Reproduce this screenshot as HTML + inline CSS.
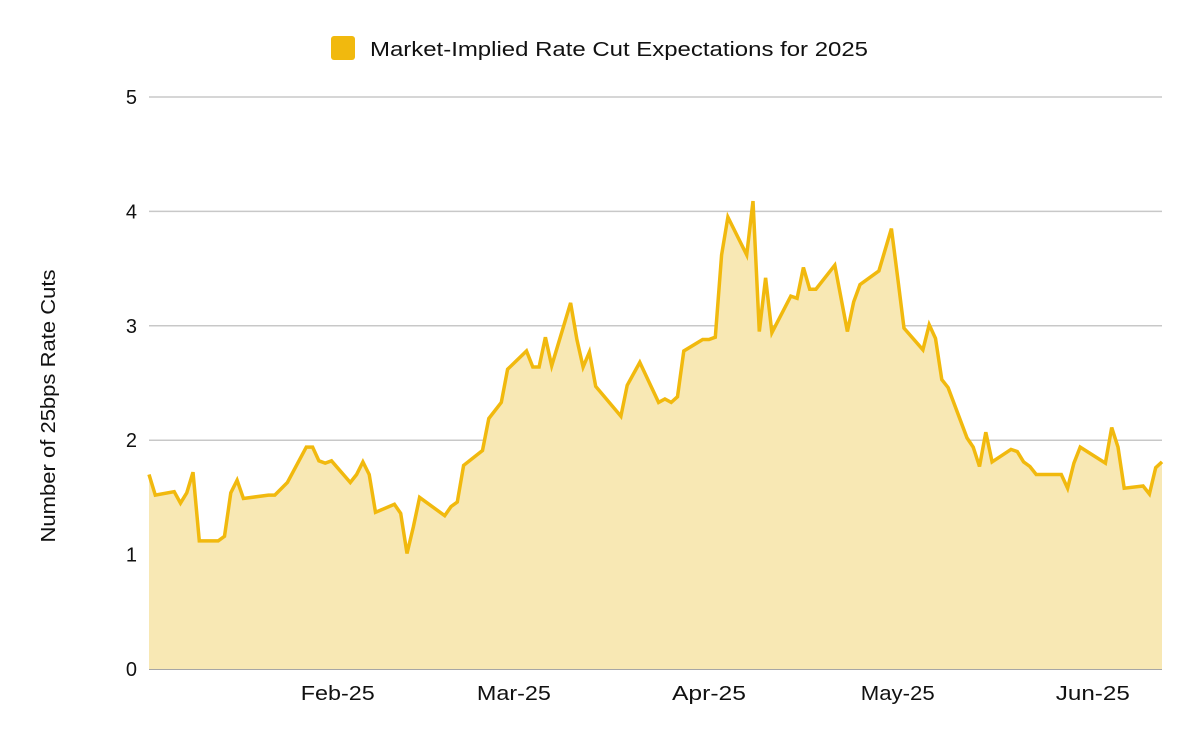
<!DOCTYPE html>
<html><head><meta charset="utf-8"><style>
body{margin:0;background:#fff;font-family:"Liberation Sans",Arial,sans-serif}
svg{display:block}
</style></head><body>
<svg id="chart" width="1200" height="742" viewBox="0 0 1200 742">
<g>
<rect x="331" y="36" width="24" height="24" rx="3" fill="#f1b90e"/>
<text x="370" y="56" font-size="20" textLength="498" lengthAdjust="spacingAndGlyphs" fill="#111">Market-Implied Rate Cut Expectations for 2025</text>
</g>
<text transform="translate(55,406) rotate(-90)" text-anchor="middle" font-size="20" textLength="273" lengthAdjust="spacingAndGlyphs" fill="#111">Number of 25bps Rate Cuts</text>
<g id="grid"></g><g id="area"></g><g id="labels"></g>
</svg>
<script>
const days=[1,2,5,6,7,8,9,12,13,14,15,16,20,21,23,26,27,28,29,30,33,34,35,36,37,40,41,42,43,44,48,49,50,51,54,55,57,58,61,62,63,64,65,68,69,70,71,72,76,77,79,82,83,84,85,86,89,90,91,92,93,96,97,98,99,100,103,104,105,106,107,110,112,113,114,117,119,120,121,124,125,126,127,128,131,132,133,134,135,138,139,140,141,142,146,147,148,149,153,154,155,156,159,160,161,162];
const values=[1.70,1.52,1.55,1.45,1.54,1.72,1.12,1.12,1.16,1.54,1.65,1.49,1.52,1.52,1.63,1.94,1.94,1.82,1.80,1.82,1.63,1.70,1.81,1.70,1.37,1.44,1.36,1.01,1.24,1.50,1.34,1.42,1.46,1.78,1.91,2.19,2.33,2.62,2.78,2.64,2.64,2.90,2.65,3.20,2.88,2.64,2.77,2.47,2.21,2.48,2.68,2.33,2.36,2.33,2.38,2.78,2.88,2.88,2.90,3.62,3.95,3.62,4.09,2.95,3.42,2.94,3.26,3.24,3.51,3.32,3.32,3.53,2.95,3.21,3.36,3.48,3.85,3.42,2.98,2.79,3.01,2.89,2.53,2.46,2.02,1.94,1.77,2.07,1.81,1.92,1.90,1.81,1.77,1.70,1.70,1.58,1.80,1.94,1.80,2.11,1.94,1.58,1.60,1.53,1.76,1.81];
const yTicks=[0,1,2,3,4,5];
const monthLabels=["Feb-25","Mar-25","Apr-25","May-25","Jun-25"];
const monthDays=[31,59,90,120,151];
const X0=149,X1=1162,Y0=669,Y5=97,D0=1,D1=162;
const sx=d=>X0+(d-D0)*(X1-X0)/(D1-D0);
const sy=v=>Y0-v*(Y0-Y5)/5;
const NS="http://www.w3.org/2000/svg";
const mk=(t,a,p)=>{const e=document.createElementNS(NS,t);for(const k in a)e.setAttribute(k,a[k]);p.appendChild(e);return e;};
const grid=document.getElementById('grid'),area=document.getElementById('area'),labels=document.getElementById('labels');
yTicks.forEach(t=>{
 const l=mk('line',{x1:X0,x2:X1,y1:sy(t),y2:sy(t),stroke:t===0?'#888':'#c8c8c8','stroke-width':1.5},grid);
 
 
 const tx=mk('text',{x:137,y:sy(t)+7,'text-anchor':'end','font-size':20,fill:'#111'},labels);
 tx.textContent=t;
 
 
});
monthLabels.forEach((m,i)=>{
 const tx=mk('text',{x:sx(monthDays[i]),y:700,'text-anchor':'middle','font-size':20,textLength:74,lengthAdjust:'spacingAndGlyphs',fill:'#111'},labels);
 tx.textContent=m;
 
 
});
const pts=days.map((d,i)=>sx(d).toFixed(1)+','+sy(values[i]).toFixed(1));
const fill=mk('polygon',{points:sx(days[0])+','+sy(0)+' '+pts.join(' ')+' '+sx(days[days.length-1])+','+sy(0),fill:'#f8e8b4'},area);


const line=mk('polyline',{points:pts.join(' '),fill:'none',stroke:'#f1b90e','stroke-width':3.5,'stroke-linejoin':'miter'},area);


</script>
</body></html>
